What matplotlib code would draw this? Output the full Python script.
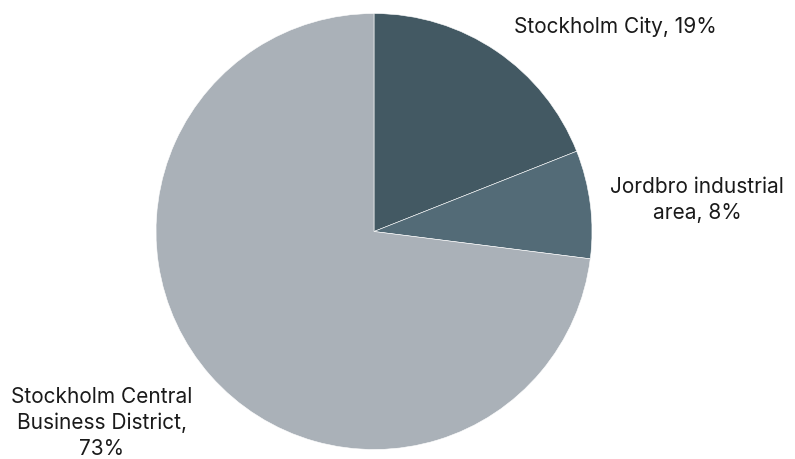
import matplotlib.pyplot as plt

labels = ["Stockholm City, 19%", "Jordbro industrial\narea, 8%",
          "Stockholm Central\nBusiness District,\n73%"]
shares = [19, 8, 73]
colors = ["#435963", "#536b77", "#aab1b8"]

plt.rcParams['font.family'] = ['Inter', 'DejaVu Sans']

fig = plt.figure(figsize=(7.95, 4.59), dpi=100)
ax = fig.add_axes([0, 0, 1, 1])
ax.set_xlim(0, 795)
ax.set_ylim(0, 459)
ax.set_aspect('equal')
ax.axis('off')

ax.pie(shares, colors=colors, startangle=90, counterclock=False,
       center=(374, 459 - 231.5), radius=218,
       wedgeprops=dict(edgecolor='white', linewidth=0.4))
ax.set_xlim(0, 795)
ax.set_ylim(0, 459)

# label positions (pixel space, y measured from bottom)
label_xy = [(615, 459 - 27), (697, 459 - 200), (102, 459 - 423)]
for text, (x, y) in zip(labels, label_xy):
    ax.text(x, y, text, ha='center', va='center', fontsize=15,
            color='#1a1a1a', linespacing=1.36)

fig.savefig("out.png", dpi=100)
